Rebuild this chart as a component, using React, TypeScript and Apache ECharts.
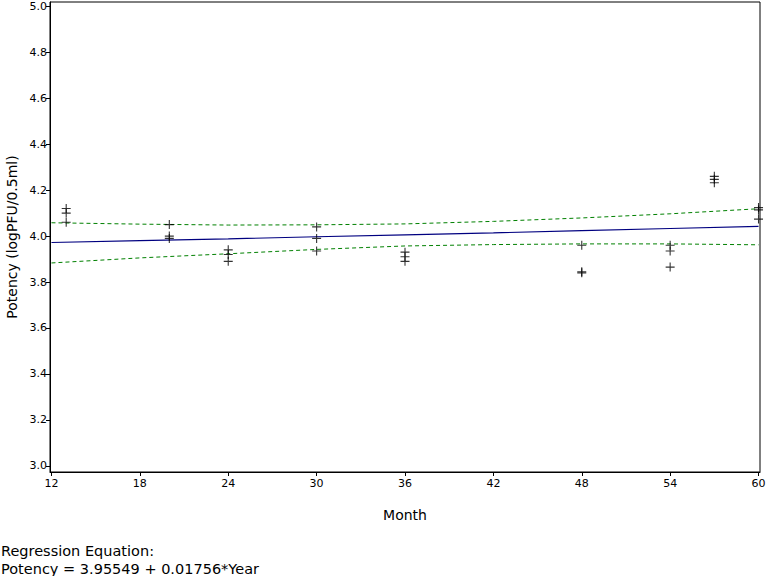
import React, { useEffect, useRef } from "react";
import * as echarts from "echarts";

const monthTicks = [12, 18, 24, 30, 36, 42, 48, 54, 60];
const potencyTicks = [3.0, 3.2, 3.4, 3.6, 3.8, 4.0, 4.2, 4.4, 4.6, 4.8, 5.0];

const obsMonths = [13, 13, 13, 20, 20, 20, 24, 24, 24, 30, 30, 30, 36, 36, 36, 48, 48, 48, 54, 54, 54, 57, 57, 57, 60, 60, 60];
const obsPotency = [4.12, 4.10, 4.06, 4.05, 4.00, 3.99, 3.94, 3.92, 3.89, 4.04, 3.99, 3.935, 3.93, 3.91, 3.89, 3.96, 3.845, 3.84, 3.96, 3.935, 3.865, 4.26, 4.247, 4.232, 4.124, 4.114, 4.074];

const lineMonths = [12, 18, 24, 30, 36, 42, 48, 54, 60];
const fitValues = [3.972, 3.980, 3.988, 3.997, 4.005, 4.014, 4.024, 4.033, 4.042];
const upperValues = [4.058, 4.052, 4.048, 4.049, 4.053, 4.064, 4.079, 4.097, 4.119];
const lowerValues = [3.883, 3.905, 3.923, 3.942, 3.957, 3.963, 3.966, 3.966, 3.962];

const equationLines = ["Regression Equation:", "Potency = 3.95549 + 0.01756*Year"];

const FONT = "DejaVu Sans";

export default function App() {
  const ref = useRef<HTMLDivElement>(null);
  useEffect(() => {
    if (!ref.current) return;
    const chart = echarts.init(ref.current, null, { renderer: "svg" });
    const pair = (xs: number[], ys: number[]) => xs.map((x, i) => [x, ys[i]]);
    chart.setOption({
      animation: false,
      backgroundColor: "#ffffff",
      grid: {
        left: 50,
        top: 2,
        right: 8,
        bottom: 104,
        show: true,
        borderColor: "#000",
        borderWidth: 1,
        backgroundColor: "transparent",
        containLabel: false,
        outerBoundsMode: "none",
      },
      xAxis: {
        type: "value",
        min: 11.9,
        max: 60.1,
        name: "Month",
        nameLocation: "middle",
        nameGap: 36,
        nameTextStyle: { fontFamily: FONT, fontSize: 14, color: "#000" },
        axisLine: { show: true, lineStyle: { color: "#000", width: 1 } },
        axisTick: { show: true, length: 4, customValues: monthTicks, lineStyle: { color: "#000" } },
        axisLabel: { customValues: monthTicks, fontFamily: FONT, fontSize: 11, color: "#000", margin: 6 },
        splitLine: { show: false },
      },
      yAxis: {
        type: "value",
        min: 2.973,
        max: 5.019,
        name: "Potency (logPFU/0.5ml)",
        nameLocation: "middle",
        nameGap: 28,
        nameTextStyle: { fontFamily: FONT, fontSize: 14, color: "#000" },
        axisLine: { show: true, lineStyle: { color: "#000", width: 1 } },
        axisTick: { show: true, length: 4, customValues: potencyTicks, lineStyle: { color: "#000" } },
        axisLabel: {
          customValues: potencyTicks,
          fontFamily: FONT,
          fontSize: 11,
          color: "#000",
          margin: 3,
          formatter: (v: number) => v.toFixed(1),
        },
        splitLine: { show: false },
      },
      series: [
        {
          type: "line",
          data: pair(lineMonths, upperValues),
          symbol: "none",
          lineStyle: { color: "#008000", width: 1, type: [4, 3] },
          z: 2,
        },
        {
          type: "line",
          data: pair(lineMonths, lowerValues),
          symbol: "none",
          lineStyle: { color: "#008000", width: 1, type: [4, 3] },
          z: 2,
        },
        {
          type: "line",
          data: pair(lineMonths, fitValues),
          symbol: "none",
          lineStyle: { color: "#000080", width: 1.2 },
          z: 3,
        },
        {
          type: "scatter",
          data: pair(obsMonths, obsPotency),
          symbol: "path://M0,5L10,5M5,0L5,10",
          symbolSize: 9,
          itemStyle: { color: "none", borderColor: "#000", borderWidth: 1.1 },
          z: 4,
        },
      ],
      graphic: equationLines.map((t, i) => ({
        type: "text",
        left: 1,
        top: 543 + i * 18,
        style: { text: t, fontFamily: FONT, fontSize: 14.5, fill: "#000" },
      })),
    });
    return () => chart.dispose();
  }, []);
  return <div ref={ref} style={{ width: 768, height: 576, position: "absolute", left: 0, top: 0 }} />;
}
